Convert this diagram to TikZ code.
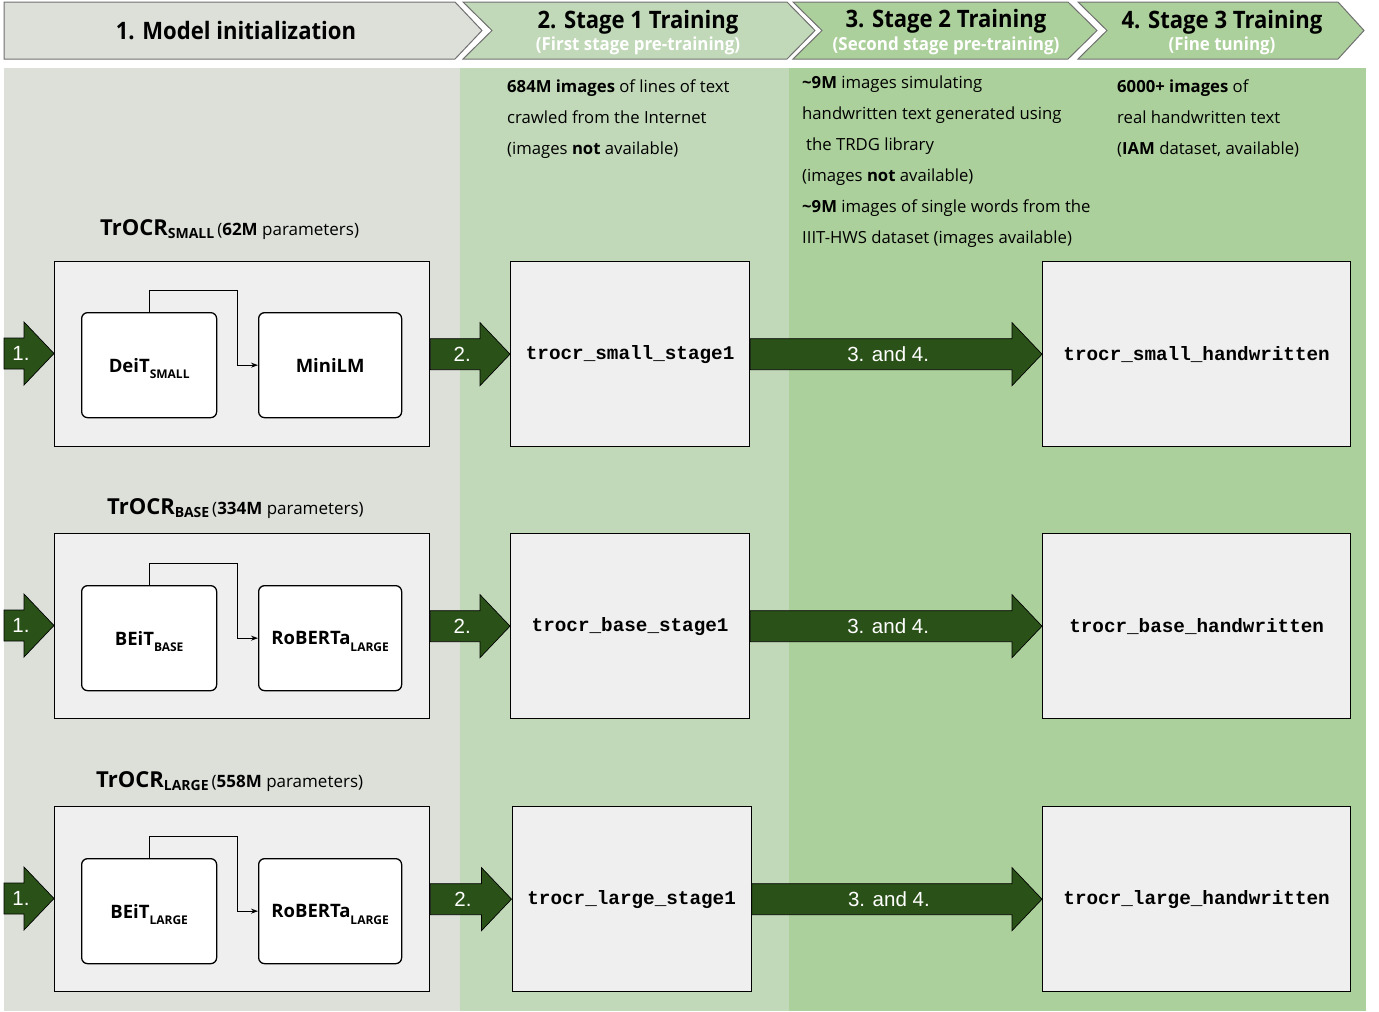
\documentclass[tikz,border=0pt]{standalone}
\usepackage{fontspec}
\setmainfont{Open Sans}
\setmonofont{Liberation Mono}
\newfontfamily\hdrfont[FakeStretch=0.92]{Open Sans}
\newfontfamily\subfont[FakeStretch=0.94]{Open Sans}
\newfontfamily\arwfont{Liberation Sans}
\usetikzlibrary{calc,arrows.meta}
\definecolor{colA}{HTML}{DCE0D9}
\definecolor{colB}{HTML}{C1D9B8}
\definecolor{colC}{HTML}{ACD09B}
\definecolor{boxgray}{HTML}{EFEFEF}
\definecolor{arrgreen}{HTML}{2A5218}
\definecolor{hdrline}{HTML}{707070}
\newcommand\blockarrow[4]{%
  \path[blockarr] let \p1=(#1), \p2=(#2) in
    (\x1,\y1+15.5pt) -- (\x2-30pt,\y1+15.5pt) -- (\x2-30pt,\y1+31.5pt) -- (\x2,\y1)
    -- (\x2-30pt,\y1-31.5pt) -- (\x2-30pt,\y1-15.5pt) -- (\x1,\y1-15.5pt) -- cycle;
  \path let \p1=(#1), \p2=(#2) in node[arrlabel] (#3) at ({(\x1+\x2)/2-8pt},\y1) {#4};
}
\newcommand\sbs[1]{\smash{\raisebox{-0.36em}{\fontsize{12}{12}\selectfont\bfseries #1}}}
\newcommand\tsub[1]{\raisebox{-0.36em}{\fontsize{14}{14}\selectfont\bfseries #1}}
\begin{document}
\begin{tikzpicture}[x=1pt,y=-1pt,
  hdr/.style={fill=#1, draw=hdrline, line width=1pt},
  hdrtitle/.style={text=black, inner sep=0, font=\hdrfont\bfseries\fontsize{24}{24}\selectfont},
  hdrsub/.style={text=white, inner sep=0, font=\subfont\bfseries\fontsize{18}{18}\selectfont},
  outerbox/.style={draw=black, fill=boxgray, line width=1.3pt, minimum width=375pt, minimum height=185pt, anchor=north west, inner sep=0},
  innerbox/.style={draw=black, fill=white, rounded corners=6pt, line width=1.3pt, minimum height=105pt, anchor=north west, inner sep=0, font=\bfseries\fontsize{18.5}{18.5}\selectfont},
  resbox/.style={draw=black, fill=boxgray, line width=1.3pt, minimum height=185pt, anchor=north west, inner sep=0, font=\ttfamily\bfseries\fontsize{19.3}{19.3}\selectfont},
  conn/.style={-{Stealth[length=7pt,width=5pt]}, line width=1pt},
  blockarr/.style={fill=arrgreen, draw=black, line width=0.7pt},
  arrlabel/.style={text=white, inner sep=0, font=\arwfont\fontsize{20.5}{20.5}\selectfont},
  bodytext/.style={anchor=north west, inner sep=0, align=left, font=\fontsize{16.7}{31}\selectfont},
  title/.style={anchor=base west, inner sep=0}
]
\useasboundingbox (0,0) rectangle (1379,1012);
% background columns
\fill[colA] (4,68) rectangle (460,1011);
\fill[colB] (460,68) rectangle (789,1011);
\fill[colC] (789,68) rectangle (1366,1011);
% header chevrons
\draw[hdr=colA] (4,2) -- (455,2) -- (482,30.5) -- (455,59) -- (4,59) -- cycle;
\draw[hdr=colB] (463,2) -- (787,2) -- (815,30.5) -- (787,59) -- (463,59) -- (492,30.5) -- cycle;
\draw[hdr=colC] (793,2) -- (1068,2) -- (1097,30.5) -- (1068,59) -- (793,59) -- (822,30.5) -- cycle;
\draw[hdr=colC] (1078,2) -- (1338,2) -- (1364,30.5) -- (1338,59) -- (1078,59) -- (1107,30.5) -- cycle;
\node[hdrtitle] (h1) at (236,31) {1. Model initialization};
\node[hdrtitle] (h2) at (638,22) {2. Stage 1 Training};
\node[hdrsub] (h2s) at (638,46) {(First stage pre-training)};
\node[hdrtitle] (h3) at (946,21) {3. Stage 2 Training};
\node[hdrsub] (h3s) at (946,46) {(Second stage pre-training)};
\node[hdrtitle] (h4) at (1222,22) {4. Stage 3 Training};
\node[hdrsub] (h4s) at (1222,46) {(Fine tuning)};
% descriptions
\node[bodytext] (d2) at (507,80) {\textbf{684M images} of lines of text\\crawled from the Internet\\(images \textbf{not} available)};
\node[bodytext] (d3) at (802,76) {\textbf{\textasciitilde9M} images simulating\\handwritten text generated using\\\hspace*{4pt}the TRDG library\\(images \textbf{not} available)\\\textbf{\textasciitilde9M} images of single words from the\\IIIT-HWS dataset (images available)};
\node[bodytext] (d4) at (1117,80) {\textbf{6000+ images} of\\real handwritten text\\(\textbf{IAM} dataset, available)};
% titles
\node[title] (t1) at (100,235) {{\bfseries\fontsize{22}{22}\selectfont TrOCR}\tsub{SMALL}\hspace{3pt}{\fontsize{17}{17}\selectfont(\textbf{62M} parameters)}};
\node[title] (t2) at (107,514) {{\bfseries\fontsize{22}{22}\selectfont TrOCR}\tsub{BASE}\hspace{3pt}{\fontsize{17}{17}\selectfont(\textbf{334M} parameters)}};
\node[title] (t3) at (96,787) {{\bfseries\fontsize{22}{22}\selectfont TrOCR}\tsub{LARGE}\hspace{3pt}{\fontsize{17}{17}\selectfont(\textbf{558M} parameters)}};
% row 1
\node[outerbox] (m1) at (54,261) {};
\node[innerbox, minimum width=135pt] (e1) at (81,312) {DeiT\sbs{SMALL}};
\node[innerbox, minimum width=143pt] (f1) at (258,312) {MiniLM};
\node[resbox, minimum width=239pt] (s1) at (510,261) {trocr\_small\_stage1};
\node[resbox, minimum width=308pt] (w1) at (1042,261) {trocr\_small\_handwritten};
% row 2
\node[outerbox] (m2) at (54,533) {};
\node[innerbox, minimum width=135pt] (e2) at (81,585) {BEiT\sbs{BASE}};
\node[innerbox, minimum width=143pt] (f2) at (258,585) {RoBERTa\sbs{LARGE}};
\node[resbox, minimum width=239pt] (s2) at (510,533) {trocr\_base\_stage1};
\node[resbox, minimum width=308pt] (w2) at (1042,533) {trocr\_base\_handwritten};
% row 3
\node[outerbox] (m3) at (54,806) {};
\node[innerbox, minimum width=135pt] (e3) at (81,858) {BEiT\sbs{LARGE}};
\node[innerbox, minimum width=143pt] (f3) at (258,858) {RoBERTa\sbs{LARGE}};
\node[resbox, minimum width=239pt] (s3) at (511.5,806) {trocr\_large\_stage1};
\node[resbox, minimum width=308pt] (w3) at (1042,806) {trocr\_large\_handwritten};
% elbow connectors
\foreach \i in {1,2,3}{
  \draw[conn] (e\i.north) -- ++(0,-22) -| ($(e\i.east)!0.5!(f\i.west)$) -- (f\i.west);
}
% start coordinates
\coordinate (a1) at (4,353.5);
\coordinate (a2) at (4,625.5);
\coordinate (a3) at (4,898.5);
% block arrows
\blockarrow{a1}{m1.west}{l11}{1.}
\blockarrow{m1.east}{s1.west}{l12}{2.}
\blockarrow{s1.east}{w1.west}{l13}{3. and 4.}
\blockarrow{a2}{m2.west}{l21}{1.}
\blockarrow{m2.east}{s2.west}{l22}{2.}
\blockarrow{s2.east}{w2.west}{l23}{3. and 4.}
\blockarrow{a3}{m3.west}{l31}{1.}
\blockarrow{m3.east}{s3.west}{l32}{2.}
\blockarrow{s3.east}{w3.west}{l33}{3. and 4.}
\end{tikzpicture}
\end{document}
